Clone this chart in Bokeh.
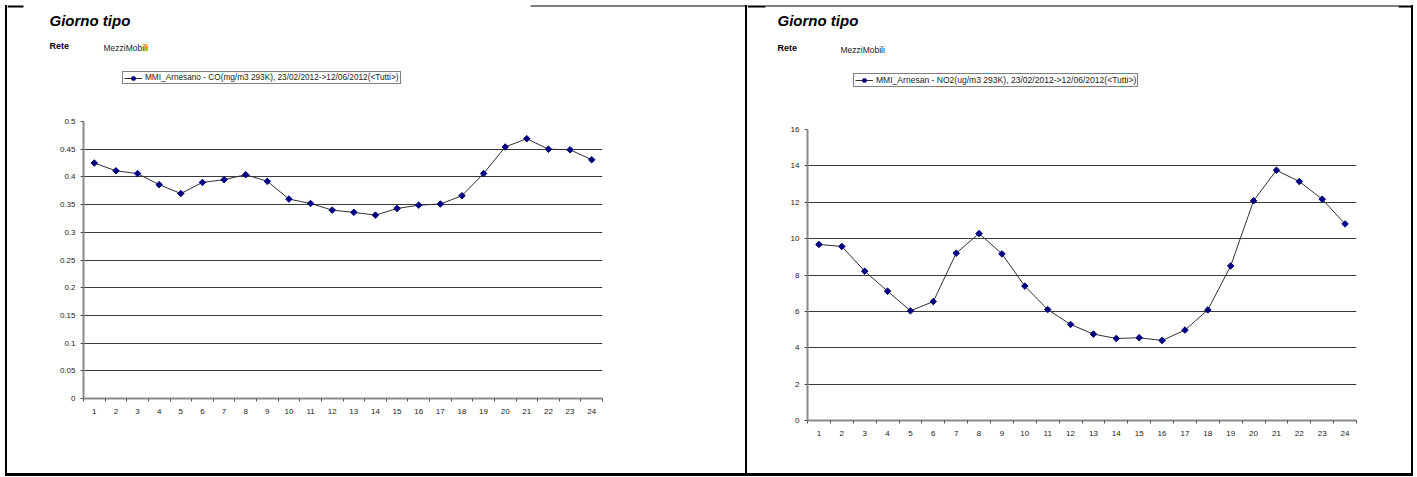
from bokeh.plotting import figure
from bokeh.layouts import row, column
from bokeh.models import (Label, Legend, LegendItem, FixedTicker, Spacer,
                          NumeralTickFormatter, Range1d)
from bokeh.embed import file_html
from bokeh.resources import INLINE

# ---------------- data ----------------
hours = [1, 2, 3, 4, 5, 6, 7, 8, 9, 10, 11, 12, 13, 14, 15, 16, 17, 18, 19, 20, 21, 22, 23, 24]
hour_labels = ["1", "2", "3", "4", "5", "6", "7", "8", "9", "10", "11", "12",
               "13", "14", "15", "16", "17", "18", "19", "20", "21", "22", "23", "24"]
co_values = [0.425, 0.411, 0.406, 0.386, 0.370, 0.390, 0.395, 0.404, 0.392, 0.360, 0.352, 0.340,
             0.336, 0.331, 0.343, 0.349, 0.351, 0.366, 0.406, 0.454, 0.469, 0.450, 0.449, 0.431]
no2_values = [9.68, 9.57, 8.21, 7.11, 6.03, 6.54, 9.20, 10.28, 9.16, 7.39, 6.10, 5.28,
              4.75, 4.51, 4.55, 4.40, 4.97, 6.08, 8.50, 12.08, 13.76, 13.14, 12.17, 10.81]
co_yticks = [0, 0.05, 0.1, 0.15, 0.2, 0.25, 0.3, 0.35, 0.4, 0.45, 0.5]
no2_yticks = [0, 2, 4, 6, 8, 10, 12, 14, 16]
boundaries = [0.5, 1.5, 2.5, 3.5, 4.5, 5.5, 6.5, 7.5, 8.5, 9.5, 10.5, 11.5, 12.5,
              13.5, 14.5, 15.5, 16.5, 17.5, 18.5, 19.5, 20.5, 21.5, 22.5, 23.5, 24.5]

header_title = "Giorno tipo"
header_rete = "Rete"
header_net = "MezziMobili"
co_legend = "MMI_Arnesano - CO(mg/m3 293K), 23/02/2012->12/06/2012(<Tutti>)"
no2_legend = "MMI_Arnesan - NO2(ug/m3 293K), 23/02/2012->12/06/2012(<Tutti>)"

FONT = "Liberation Sans"
LINE_COL = "#303030"
MARK_COL = "#000080"
MARK_SIZE = 4.6
MARK_ANGLE = 0.785398


def black_bar(w, h):
    return Spacer(width=w, height=h, margin=0, styles={"background-color": "black"})


def blank(w, h):
    return Spacer(width=w, height=h, margin=0)


def vbar():
    return column(blank(2, 5), black_bar(2, 471), blank(2, 1), spacing=0)


def add_series(p, values, **kw):
    lr = p.line(hours, values, line_color=LINE_COL, line_width=1, **kw)
    sr = p.scatter(hours, values, marker="square", angle=MARK_ANGLE, size=MARK_SIZE,
                   fill_color=MARK_COL, line_color=MARK_COL, **kw)
    return lr, sr


def header(x0, x1, y1, hdr, legend_text, legend_loc, legend_font, top_lines, values):
    """Header strip; data coordinates equal page pixels."""
    p = figure(width=x1 - x0, height=y1, output_backend="svg", toolbar_location=None,
               x_range=Range1d(x0, x1), y_range=Range1d(y1, 0),
               x_axis_type=None, y_axis_type=None, min_border=0, margin=0,
               frame_align=False)
    p.outline_line_color = None
    p.grid.visible = False
    (tx, ty), (rx, ry), (mx, my) = hdr
    p.add_layout(Label(x=tx, y=ty, text=header_title, text_font=FONT,
                       text_font_size="15px", text_font_style="bold italic",
                       text_color="black"))
    p.add_layout(Label(x=rx, y=ry, text=header_rete, text_font=FONT,
                       text_font_size="9px", text_font_style="bold", text_color="black"))
    p.add_layout(Label(x=mx, y=my, text=header_net, text_font=FONT,
                       text_font_size="8.5px", text_color="#222222"))
    # hidden copies of the series, used only for the legend key
    lr, sr = add_series(p, values, visible=False)
    leg = Legend(items=[LegendItem(label=legend_text, renderers=[lr, sr])],
                 location=legend_loc)
    leg.inactive_fill_alpha = 0
    leg.border_line_color = "black"
    leg.border_line_width = 1
    leg.background_fill_alpha = 1
    leg.padding = 1
    leg.margin = 0
    leg.spacing = 0
    leg.label_height = 8
    leg.glyph_height = 8
    leg.glyph_width = 18
    leg.label_standoff = 3
    leg.label_text_font = FONT
    leg.label_text_font_size = legend_font
    leg.label_text_color = "#222222"
    p.add_layout(leg)
    for (a, b, yy, w) in top_lines:
        p.line([a, b], [yy, yy], line_color="black", line_width=w)
    return p


def chart(width, height, borders, y_max, y_ticks, y_fmt, values):
    bl, br, bt, bb = borders
    p = figure(width=width, height=height, output_backend="svg", toolbar_location=None,
               x_range=Range1d(0.5, 24.5), y_range=Range1d(0, y_max),
               min_border_left=bl, min_border_right=br, min_border_top=bt,
               min_border_bottom=bb, margin=0, frame_align=False)
    p.outline_line_color = None
    p.xgrid.grid_line_color = None
    p.ygrid.grid_line_color = "#3a3a3a"
    p.ygrid.grid_line_width = 1
    p.ygrid.ticker = FixedTicker(ticks=y_ticks)
    p.yaxis.ticker = FixedTicker(ticks=y_ticks)
    p.yaxis.formatter = y_fmt
    p.xaxis.ticker = FixedTicker(ticks=hours, minor_ticks=boundaries)
    p.xaxis.major_label_overrides = {h: l for h, l in zip(hours, hour_labels)}
    for ax in (p.xaxis[0], p.yaxis[0]):
        ax.axis_line_color = "#8a8a8a"
        ax.axis_line_width = 2
        ax.major_label_text_font = FONT
        ax.major_label_text_font_size = "8px"
        ax.major_label_text_color = "#222222"
    p.yaxis.major_label_standoff = 5
    p.xaxis.major_label_standoff = 4
    p.yaxis.major_tick_line_color = "#555555"
    p.yaxis.major_tick_out = 3
    p.yaxis.major_tick_in = 0
    p.yaxis.minor_tick_line_color = None
    p.xaxis.major_tick_line_color = None
    p.xaxis.minor_tick_line_color = "#555555"
    p.xaxis.minor_tick_out = 3
    p.xaxis.minor_tick_in = 0
    add_series(p, values)
    return p


# ---------- left panel (page x 7..745) ----------
h1 = header(7, 745, 100,
            ((49, 28), (49, 50), (103, 52)),
            co_legend, (122 - 7, 100 - 84), "8.25px",
            [(7, 23, 6, 2), (530, 745, 5.5, 1)], co_values)
c1 = chart(738, 473 - 100, (83 - 7, 745 - 602, 121 - 100, 473 - 398),
           0.5, co_yticks, NumeralTickFormatter(format="0.[00]"), co_values)
col1 = column(h1, c1, black_bar(738, 3), blank(738, 1), spacing=0)

# ---------- right panel (page x 747..1411) ----------
h2 = header(747, 1411, 108,
            ((777, 28), (777, 52), (840, 54)),
            no2_legend, (853 - 747, 108 - 87), "8.55px",
            [(747, 765, 6, 2), (765, 1398, 5.5, 1), (1398, 1411, 6, 2)], no2_values)
c2 = chart(664, 473 - 108, (807 - 747, 1411 - 1356, 129 - 108, 473 - 420),
           16, no2_yticks, NumeralTickFormatter(format="0"), no2_values)
col2 = column(h2, c2, black_bar(664, 3), blank(664, 1), spacing=0)

layout = row(blank(5, 477), vbar(), col1, vbar(), col2, vbar(), blank(4, 477),
             spacing=0)
open("out.html", "w").write(file_html(layout, INLINE))
